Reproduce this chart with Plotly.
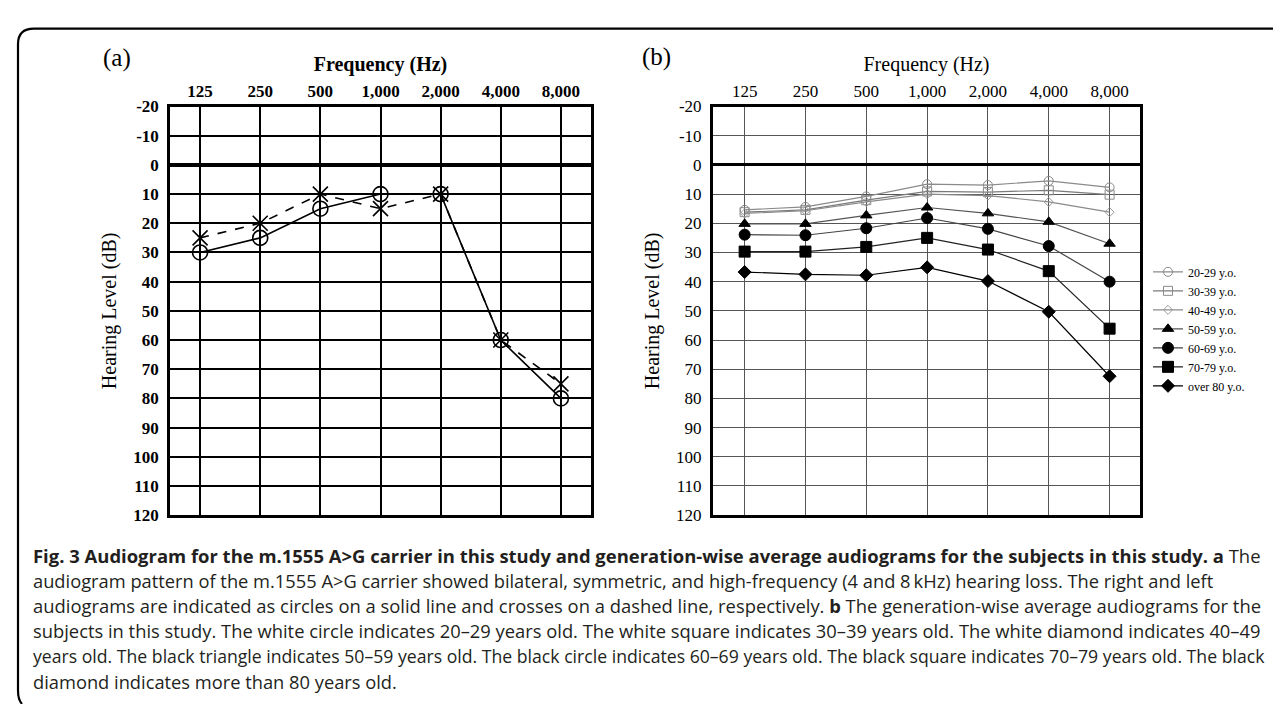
import plotly.graph_objects as go

W, H = 1281, 704

# ---------------- data ----------------
freq_labels = ["125", "250", "500", "1,000", "2,000", "4,000", "8,000"]
freq_pos = [0, 1, 2, 3, 4, 5, 6]
db_ticks = [-20, -10, 0, 10, 20, 30, 40, 50, 60, 70, 80, 90, 100, 110, 120]

# panel (a): m.1555 A>G carrier
right_ear = [30, 25, 15, 10, 10, 60, 80]
left_ear = [25, 20, 10, 15, 10, 60, 75]

# panel (b): generation-wise averages
age_groups = ["20-29 y.o.", "30-39 y.o.", "40-49 y.o.", "50-59 y.o.",
              "60-69 y.o.", "70-79 y.o.", "over 80 y.o."]
g20 = [15.4, 14.4, 10.8, 6.6, 6.9, 5.5, 7.7]
g30 = [16.2, 15.4, 12.1, 9.1, 9.3, 8.7, 10.2]
g40 = [16.6, 15.7, 12.7, 10.0, 10.5, 12.7, 16.2]
g50 = [20.2, 20.2, 17.3, 14.6, 16.6, 19.5, 27.0]
g60 = [23.9, 24.1, 21.7, 18.2, 21.9, 27.8, 40.0]
g70 = [29.7, 29.7, 28.1, 25.0, 29.0, 36.4, 56.1]
g80 = [36.7, 37.5, 37.8, 35.1, 39.8, 50.3, 72.4]
group_values = [g20, g30, g40, g50, g60, g70, g80]

caption_lines = [
    "<b>Fig. 3 Audiogram for the m.1555 A&gt;G carrier in this study and generation-wise average audiograms for the subjects in this study. a</b> The",
    "audiogram pattern of the m.1555 A&gt;G carrier showed bilateral, symmetric, and high-frequency (4 and 8\u2009kHz) hearing loss. The right and left",
    "audiograms are indicated as circles on a solid line and crosses on a dashed line, respectively. <b>b</b> The generation-wise average audiograms for the",
    "subjects in this study. The white circle indicates 20\u201329 years old. The white square indicates 30\u201339 years old. The white diamond indicates 40\u201349",
    "years old. The black triangle indicates 50\u201359 years old. The black circle indicates 60\u201369 years old. The black square indicates 70\u201379 years old. The black",
    "diamond indicates more than 80 years old.",
]
caption_sizes = [18.45, 18.3, 18.4, 18.35, 17.65, 18.3]

# ---------------- helpers ----------------
def px(x):
    return x / W

def py(y):
    return 1 - y / H

SERIF = "Liberation Serif, Times New Roman, serif"
SANS = "Open Sans, Noto Sans, sans-serif"

fig = go.Figure()

# panel (a) traces
fig.add_trace(go.Scatter(
    x=freq_pos, y=right_ear, mode="lines+markers", name="Right",
    line=dict(color="black", width=1.6),
    marker=dict(symbol="circle-open", size=15, color="black", line=dict(width=1.6)),
    xaxis="x", yaxis="y", showlegend=False))
fig.add_trace(go.Scatter(
    x=freq_pos, y=left_ear, mode="lines+markers", name="Left",
    line=dict(color="black", width=1.6, dash="dash"),
    marker=dict(symbol="x-thin-open", size=15, color="black", line=dict(width=1.6, color="black")),
    xaxis="x", yaxis="y", showlegend=False))

# panel (b) traces
styles = [
    dict(symbol="circle-open", size=9, color="#8a8a8a", lc="#8a8a8a", lw=1.2),
    dict(symbol="square-open", size=9, color="#8a8a8a", lc="#7a7a7a", lw=1.2),
    dict(symbol="diamond-open", size=7, color="#9a9a9a", lc="#8a8a8a", lw=1.2),
    dict(symbol="triangle-up", size=10, color="black", lc="#555555", lw=1.2),
    dict(symbol="circle", size=11, color="black", lc="#444444", lw=1.2),
    dict(symbol="square", size=11, color="black", lc="#222222", lw=1.2),
    dict(symbol="diamond", size=10, color="black", lc="black", lw=1.2),
]
for name, vals, st in zip(age_groups, group_values, styles):
    fig.add_trace(go.Scatter(
        x=freq_pos, y=vals, mode="lines+markers", name=name,
        line=dict(color=st["lc"], width=st["lw"]),
        marker=dict(symbol=st["symbol"], size=st["size"], color=st["color"],
                    line=dict(width=1, color=st["color"])),
        xaxis="x2", yaxis="y2", showlegend=True))

ya_dom = [py(512), py(92)]

common_x = dict(
    tickmode="array", tickvals=freq_pos, ticktext=freq_labels, side="top",
    showgrid=True, zeroline=False, ticks="", showline=True, mirror=True,
    fixedrange=True,
)
common_y = dict(
    tickmode="array", tickvals=db_ticks, ticktext=[str(v) for v in db_ticks],
    range=[120, -20], showgrid=True, zeroline=True, ticks="", showline=True,
    mirror=True, fixedrange=True,
)

fig.update_layout(
    width=W, height=H,
    margin=dict(l=0, r=0, t=0, b=0),
    paper_bgcolor="white", plot_bgcolor="white",
    xaxis=dict(common_x, domain=[px(162), px(583)], range=[-0.5, 6.5], anchor="y",
               gridcolor="black", gridwidth=1.8, linecolor="black", linewidth=2.5,
               tickfont=dict(family=SERIF, size=17, color="black", weight="bold"),
               title=dict(text="Frequency (Hz)", standoff=5,
                          font=dict(family=SERIF, size=20, color="black", weight="bold"))),
    yaxis=dict(common_y, domain=ya_dom, anchor="x",
               gridcolor="black", gridwidth=1.8, linecolor="black", linewidth=2.5,
               zerolinecolor="black", zerolinewidth=3.5,
               tickfont=dict(family=SERIF, size=17, color="black", weight="bold"),
               ticklabelstandoff=5,
               title=dict(text="Hearing Level (dB)", standoff=12,
                          font=dict(family=SERIF, size=20, color="black"))),
    xaxis2=dict(common_x, domain=[px(705), px(1132)], range=[-0.52, 6.5], anchor="y2",
                gridcolor="#555555", gridwidth=1, linecolor="black", linewidth=3,
                tickfont=dict(family=SERIF, size=17, color="black"),
                title=dict(text="Frequency (Hz)", standoff=5,
                           font=dict(family=SERIF, size=20, color="black"))),
    yaxis2=dict(common_y, domain=ya_dom, anchor="x2",
                gridcolor="#555555", gridwidth=1, linecolor="black", linewidth=3,
                zerolinecolor="black", zerolinewidth=3,
                tickfont=dict(family=SERIF, size=17, color="black"),
                ticklabelstandoff=5,
                title=dict(text="Hearing Level (dB)", standoff=12,
                           font=dict(family=SERIF, size=20, color="black"))),
    legend=dict(x=px(1140), y=py(247), xanchor="left", yanchor="top",
                font=dict(family=SERIF, size=12, color="black"),
                itemwidth=30, bgcolor="rgba(0,0,0,0)", tracegroupgap=0),
    showlegend=True,
)

annotations = [
    dict(text="(a)", x=px(109), y=py(42), xref="paper", yref="paper",
         showarrow=False, xanchor="center", yanchor="middle",
         font=dict(family=SERIF, size=25, color="black")),
    dict(text="(b)", x=px(648), y=py(41), xref="paper", yref="paper",
         showarrow=False, xanchor="center", yanchor="middle",
         font=dict(family=SERIF, size=25, color="black")),
]
for i, (line, fs) in enumerate(zip(caption_lines, caption_sizes)):
    annotations.append(dict(
        text=line, x=px(23), y=py(553 + 26 * i), xref="paper", yref="paper",
        showarrow=False, xanchor="left", yanchor="middle", align="left",
        font=dict(family=SANS, size=fs, color="#231f20")))
fig.update_layout(annotations=annotations)

# outer frame (top and left edges with rounded corners)
path = (f"M {px(1290)},{py(12)} L {px(26)},{py(12)} "
        f"Q {px(10)},{py(12)} {px(10)},{py(28)} "
        f"L {px(10)},{py(692)} Q {px(10)},{py(702)} {px(14)},{py(706)}")
fig.add_shape(type="path", path=path, xref="paper", yref="paper",
              line=dict(color="black", width=2.2), layer="above")

fig.write_html("out.html")
